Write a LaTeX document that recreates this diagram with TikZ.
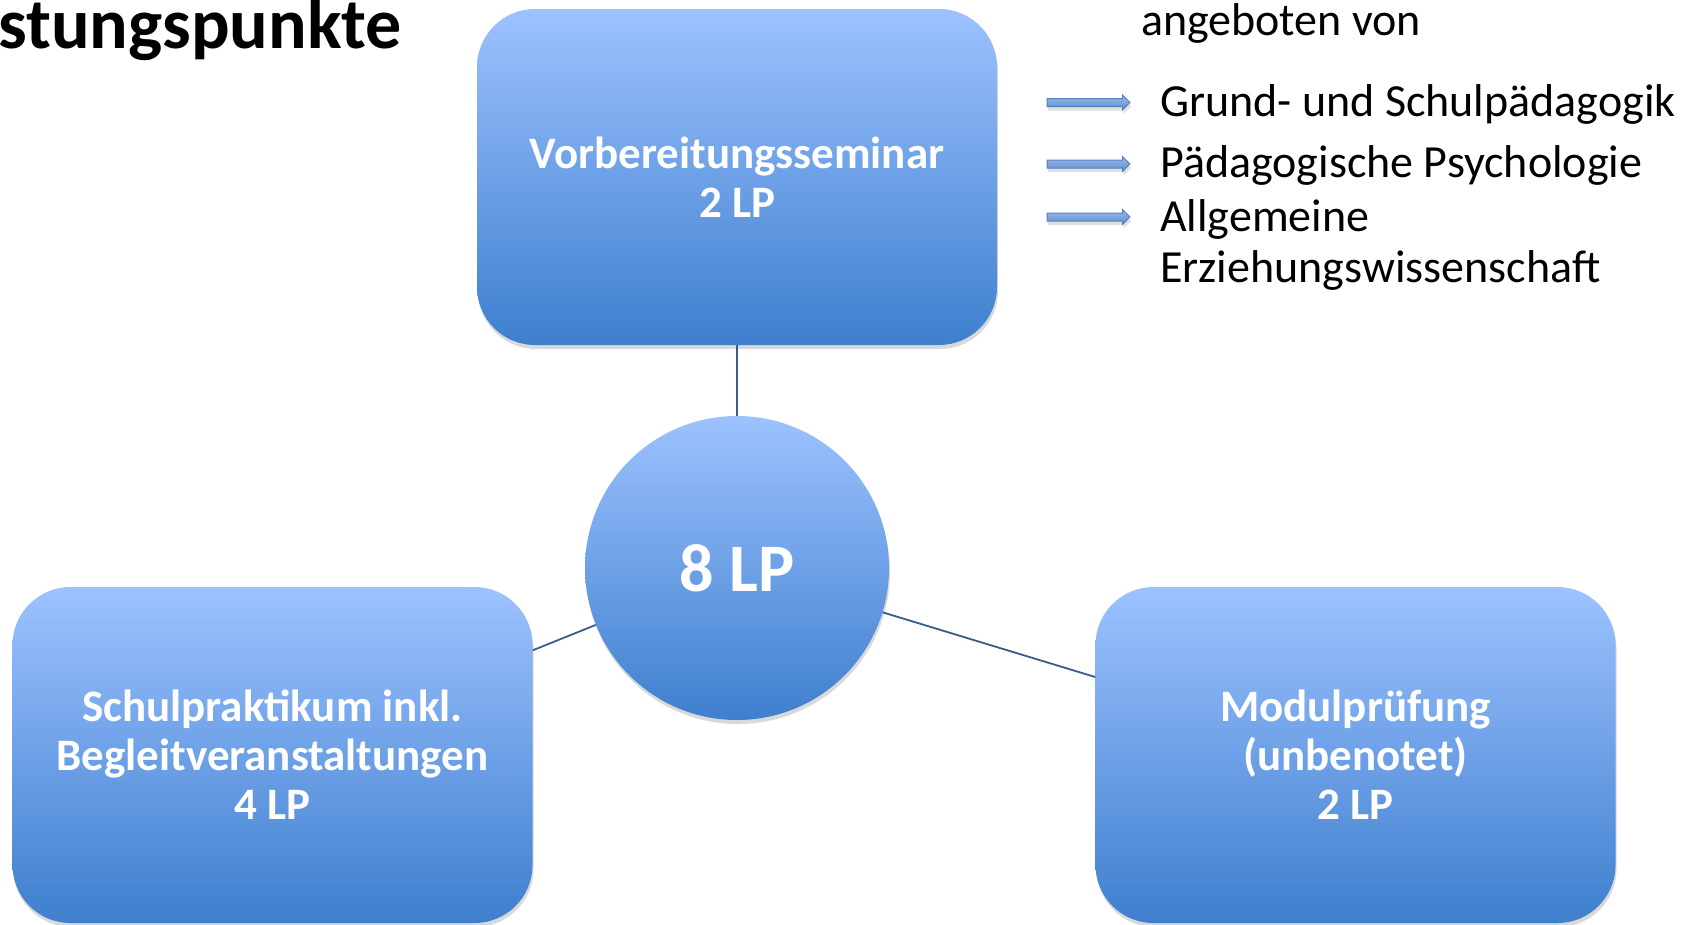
\documentclass[tikz,border=0pt]{standalone}
\usepackage{fontspec}
\setmainfont{Carlito}
\usetikzlibrary{shadows,shapes.arrows}
\definecolor{boxtop}{RGB}{157,194,255}
\definecolor{boxbot}{RGB}{62,127,206}
\definecolor{linkc}{RGB}{56,93,138}
\definecolor{arrtop}{RGB}{158,186,232}
\definecolor{arrbot}{RGB}{92,140,205}
\definecolor{arrdraw}{RGB}{79,129,189}
\begin{document}
\begin{tikzpicture}[x=1pt,y=-1pt,
  softshadow/.style={drop shadow={opacity=0.25, shadow xshift=1pt, shadow yshift=-4pt, fill=black!60}},
  box/.style={rounded corners=58pt, minimum width=520pt, minimum height=336pt,
    top color=boxtop, bottom color=boxbot, draw=none, text=white, inner sep=0pt,
    font=\fontsize{45}{49}\selectfont\bfseries, align=center, softshadow},
  circ/.style={circle, minimum size=304pt, inner sep=0pt, top color=boxtop, bottom color=boxbot,
    draw=none, text=white, font=\fontsize{68}{70}\selectfont\bfseries, softshadow},
  link/.style={draw=linkc, line width=1.8pt},
  listtext/.style={anchor=base west, inner sep=0pt, font=\fontsize{46}{51}\selectfont},
  listarrow/.style={single arrow, draw=arrdraw, top color=arrtop, bottom color=arrbot, line width=1pt,
    minimum height=83pt, minimum width=14pt, inner xsep=0pt, inner ysep=3.5pt,
    single arrow head extend=3.5pt, single arrow tip angle=90,
    drop shadow={opacity=0.2, shadow xshift=1pt, shadow yshift=-4pt, fill=black!60}}
]
\useasboundingbox (0,0) rectangle (1691,924);

% title (cut at the left edge)
\node[anchor=base west, inner sep=0pt, font=\fontsize{72}{80}\selectfont\bfseries] (title) at (-2,48) {stungspunkte};

% boxes
\node[box] (t) at (737,177) {Vorbereitungsseminar\\2 LP};
\node[box] (l) at (272.5,755) {Schulpraktikum inkl.\\Begleitveranstaltungen\\4 LP};
\node[box] (r) at (1355.5,755) {Modulprüfung\\(unbenotet)\\2 LP};
\node[circ] (c) at (737,568) {8 LP};

% connectors
\draw[link] (t) -- (c);
\draw[link] (c) -- (l);
\draw[link] (c) -- (r);

% offered by
\node[listtext] (hdr) at (1141,35) {angeboten von};
\node[listarrow] (a1) at (1086.5,102.5) {};
\node[listarrow] (a2) at (1086.5,164) {};
\node[listarrow] (a3) at (1086.5,217) {};
\node[listtext] (e1) at (1160,116) {Grund- und Schulpädagogik};
\node[listtext] (e2) at (1160,177) {Pädagogische Psychologie};
\node[listtext] (e3) at (1160,231) {Allgemeine};
\node[listtext] (e4) at (1160,282) {Erziehungswissenschaft};
\end{tikzpicture}
\end{document}
